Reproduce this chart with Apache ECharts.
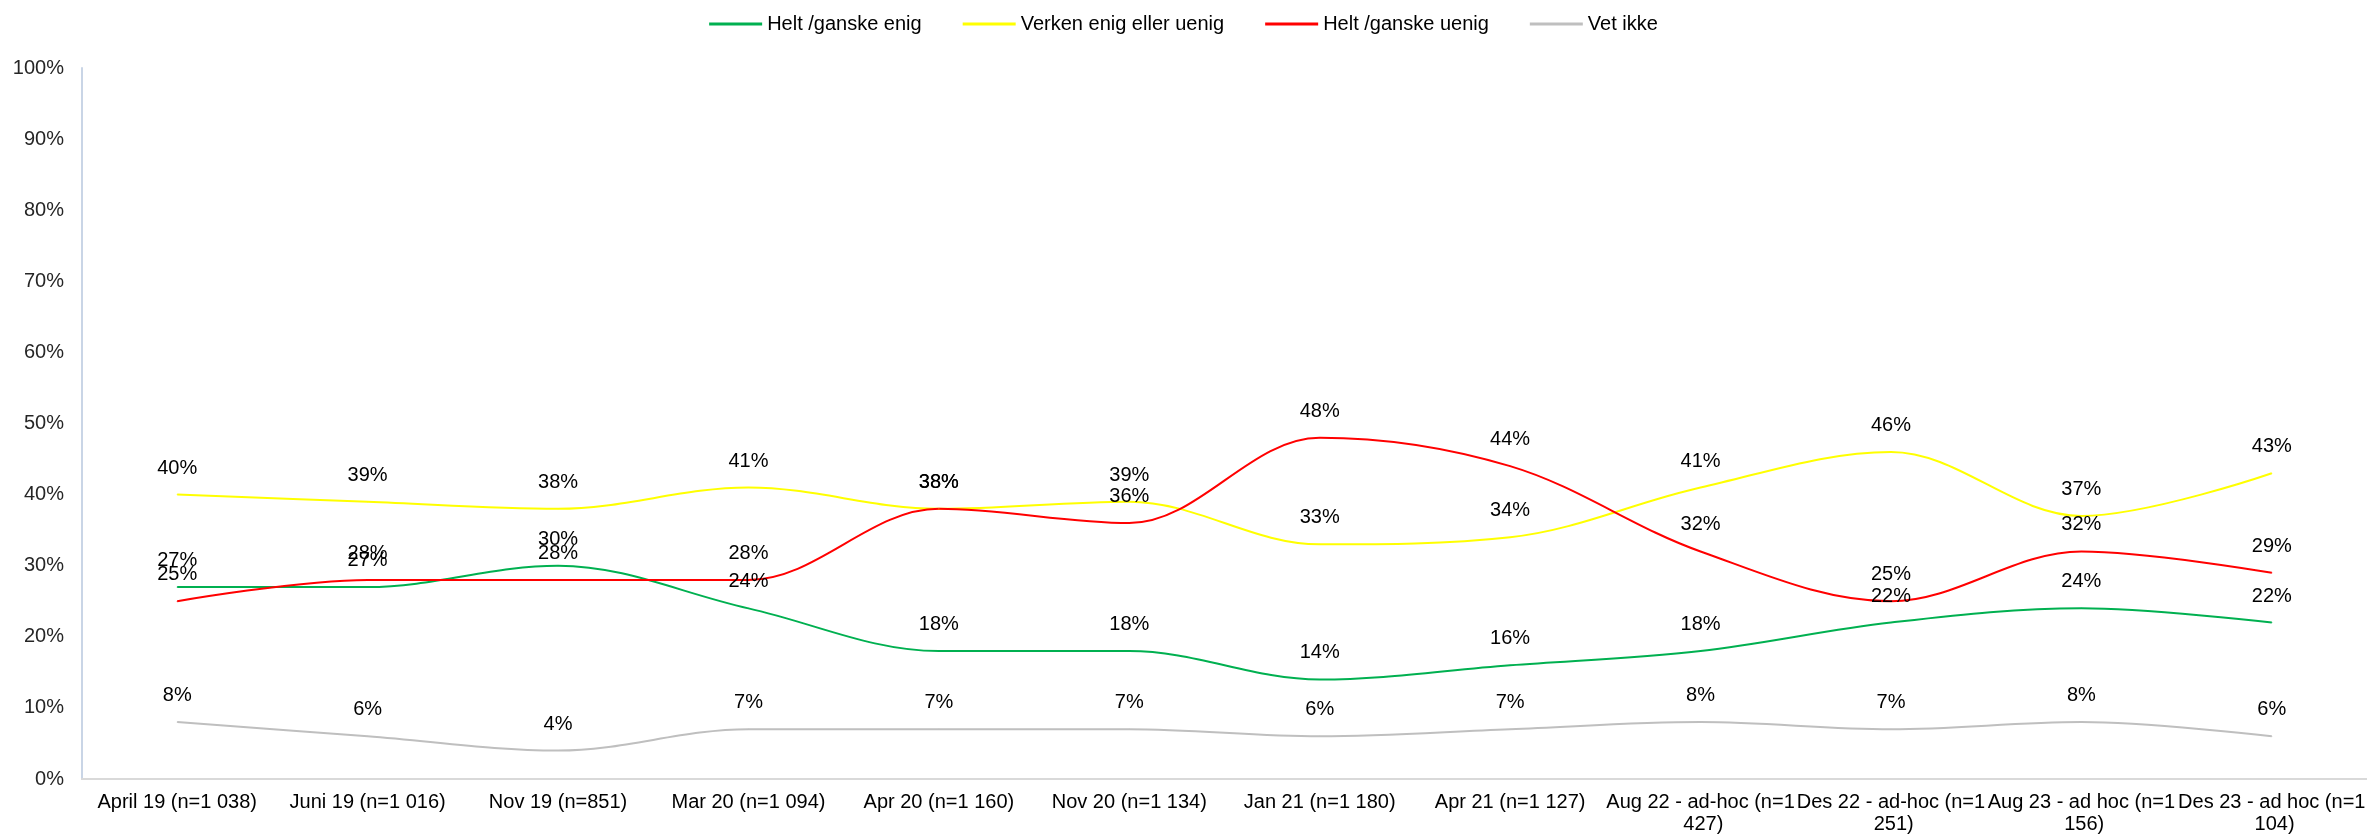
<!DOCTYPE html>
<html>
<head>
<meta charset="utf-8">
<script src="https://cdn.jsdelivr.net/npm/echarts@6/dist/echarts.min.js"></script>
<style>
  html, body { margin: 0; padding: 0; background: #fff; }
  #chart { width: 2367px; height: 837px; }
</style>
</head>
<body>
<div id="chart"></div>
<script>
// kategorier (målinger)
const categories = [
  'April 19 (n=1 038)', 'Juni 19 (n=1 016)', 'Nov 19 (n=851)', 'Mar 20 (n=1 094)',
  'Apr 20 (n=1 160)', 'Nov 20 (n=1 134)', 'Jan 21 (n=1 180)', 'Apr 21 (n=1 127)',
  'Aug 22 - ad-hoc (n=1 427)', 'Des 22 - ad-hoc (n=1 251)', 'Aug 23 - ad hoc (n=1 156)', 'Des 23 - ad hoc (n=1 104)'
]

// verdier i prosent
const heltEnig = [27, 27, 30, 24, 18, 18, 14, 16, 18, 22, 24, 22]
const verken = [40, 39, 38, 41, 38, 39, 33, 34, 41, 46, 37, 43]
const heltUenig = [25, 28, 28, 28, 38, 36, 48, 44, 32, 25, 32, 29]
const vetIkke = [8, 6, 4, 7, 7, 7, 6, 7, 8, 7, 8, 6]

const FONT = "'Liberation Sans', Arial, sans-serif"

const makeSeries = (name, data, color) => ({
  name, type: 'line', data,
  smooth: 0.35,
  symbol: 'circle', symbolSize: 1, showSymbol: true,
  itemStyle: { color },
  lineStyle: { color, width: 2 },
  label: {
    show: true, position: 'top', distance: 16,
    formatter: '{c}%', color: '#000', fontSize: 20, fontFamily: FONT
  },
  emphasis: { disabled: true }
})

const chart = echarts.init(document.getElementById('chart'))
chart.setOption({
  animation: false,
  backgroundColor: '#fff',
  legend: {
    top: 9, left: 'center',
    itemWidth: 53, itemHeight: 3, itemGap: 41,
    icon: 'rect',
    textStyle: { color: '#000', fontSize: 20, fontFamily: FONT },
    data: ['Helt /ganske enig', 'Verken enig eller uenig', 'Helt /ganske uenig', 'Vet ikke']
  },
  grid: { left: 82, right: 0, top: 68, bottom: 58, containLabel: false, outerBoundsMode: 'none' },
  xAxis: {
    type: 'category',
    data: categories,
    boundaryGap: true,
    axisLine: { lineStyle: { color: '#D9D9D9', width: 2 } },
    axisTick: { show: false },
    axisLabel: {
      interval: 0, margin: 12, color: '#000', fontSize: 20, fontFamily: FONT,
      width: 192, overflow: 'break', lineHeight: 22
    }
  },
  yAxis: {
    type: 'value', min: 0, max: 100, interval: 10,
    axisLine: { show: true, lineStyle: { color: '#C9D5E6', width: 2 } },
    axisTick: { show: false },
    splitLine: { show: false },
    axisLabel: { formatter: '{value}%', margin: 18, color: '#262626', fontSize: 20, fontFamily: FONT }
  },
  series: [
    makeSeries('Helt /ganske enig', heltEnig, '#00B050'),
    makeSeries('Verken enig eller uenig', verken, '#FFFF00'),
    makeSeries('Helt /ganske uenig', heltUenig, '#FF0000'),
    makeSeries('Vet ikke', vetIkke, '#BFBFBF')
  ]
})
</script>
</body>
</html>
